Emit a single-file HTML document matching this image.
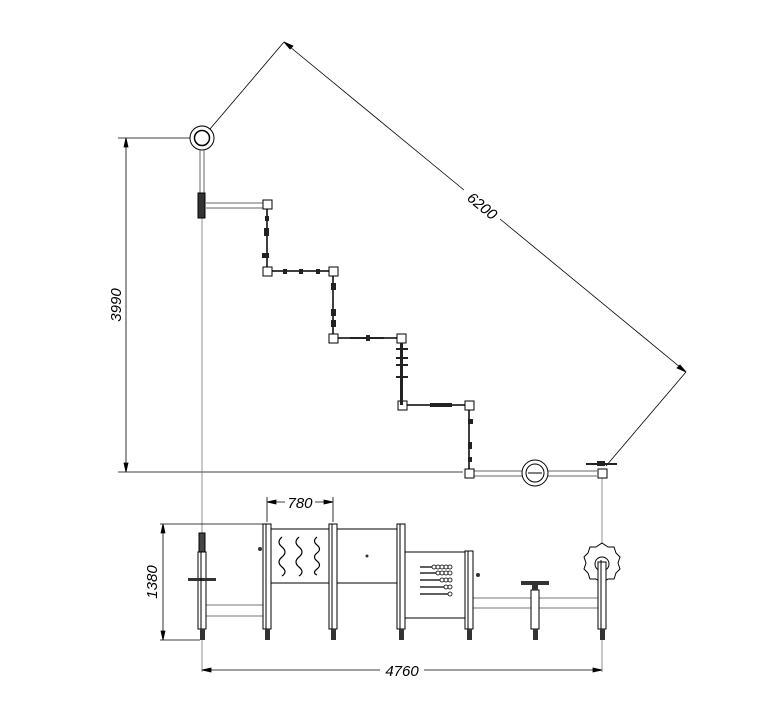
<!DOCTYPE html>
<html><head><meta charset="utf-8"><style>html,body{margin:0;padding:0;background:#fff}svg{display:block}</style></head>
<body>
<svg width="780" height="710" viewBox="0 0 780 710" xmlns="http://www.w3.org/2000/svg" font-family="Liberation Sans, sans-serif" font-style="italic">
<g stroke="#000" fill="none" stroke-width="0.8">
<line x1="210" y1="129" x2="284" y2="42"/>
<line x1="284" y1="42" x2="464" y2="190"/>
<line x1="500" y1="219" x2="686" y2="372"/>
<line x1="686" y1="372" x2="606" y2="466"/>
<path d="M284 42 l9 4 -3 3z" fill="#000"/>
<path d="M686 372 l-9 -4 3 -3z" fill="#000"/>
<line x1="118" y1="138" x2="190" y2="138"/>
<line x1="118" y1="472" x2="463" y2="472"/>
<line x1="126" y1="138" x2="126" y2="472"/>
<path d="M126 138 l-2 9 4 0z M126 472 l-2 -9 4 0z" fill="#000"/>
<line x1="202" y1="218" x2="202" y2="672" stroke="#777"/>
<line x1="602" y1="478" x2="602" y2="672" stroke="#777"/>
</g>
<text x="0" y="0" font-size="15" transform="translate(121,305) rotate(-90)" text-anchor="middle">3990</text>
<text x="0" y="0" font-size="15" transform="translate(479,210) rotate(39.4)" text-anchor="middle">6200</text>

<g stroke="#000" fill="#fff" stroke-width="1">
<circle cx="202" cy="138" r="12"/>
<circle cx="202" cy="138" r="7.5" stroke-width="1.5"/>
<line x1="200" y1="150" x2="200" y2="196" stroke="#666"/>
<line x1="204" y1="150" x2="204" y2="196" stroke="#666"/>
<rect x="198" y="193" width="7" height="25" fill="#333"/>
<line x1="206" y1="203" x2="264" y2="203" stroke="#666"/>
<line x1="206" y1="208" x2="264" y2="208" stroke="#666"/>
<path d="M267 209 V271 H333 V338 H401 V405 H469 V473" fill="none" stroke-width="1.5"/>
<line x1="474" y1="471" x2="597" y2="471" stroke="#666"/>
<line x1="474" y1="476" x2="597" y2="476" stroke="#666"/>
<circle cx="535" cy="473" r="13"/>
<circle cx="535" cy="473" r="9"/>
<line x1="528" y1="473" x2="542" y2="473"/>
<rect x="263" y="200" width="9" height="9"/>
<rect x="263" y="267" width="9" height="9"/>
<rect x="329" y="267" width="9" height="9"/>
<rect x="329" y="334" width="9" height="9"/>
<rect x="397" y="334" width="9" height="9"/>
<rect x="398" y="401" width="9" height="9"/>
<rect x="465" y="401" width="9" height="9"/>
<rect x="465" y="469" width="9" height="9"/>
<rect x="598" y="469" width="9" height="9"/>
</g>
<g fill="#222">
<rect x="265" y="216" width="4" height="5"/><rect x="264" y="228" width="5" height="8"/><rect x="262" y="253" width="7" height="5"/>
<rect x="283" y="269" width="4" height="5"/><rect x="299" y="269" width="4" height="5"/><rect x="316" y="269" width="4" height="5"/>
<rect x="331" y="283" width="5" height="7"/><rect x="331" y="309" width="5" height="7"/><rect x="331" y="320" width="5" height="7"/>
<rect x="350" y="337" width="34" height="2"/><rect x="366" y="335" width="4" height="6"/>
<rect x="400" y="343" width="3" height="62"/>
<rect x="396" y="348" width="12" height="2"/><rect x="396" y="357" width="12" height="2"/><rect x="396" y="364" width="12" height="2"/><rect x="396" y="376" width="12" height="2"/>
<rect x="430" y="403" width="22" height="4"/>
<rect x="468" y="419" width="5" height="5"/><rect x="468" y="442" width="4" height="7"/><rect x="468" y="457" width="4" height="5"/>
<rect x="586" y="463" width="31" height="2"/><rect x="597" y="461" width="8" height="5"/>
</g>

<g stroke="#000" fill="none" stroke-width="0.8">
<line x1="160" y1="524" x2="265" y2="524"/>
<line x1="160" y1="640" x2="200" y2="640"/>
<line x1="163" y1="524" x2="163" y2="640"/>
<path d="M163 524 l-2 9 4 0z M163 640 l-2 -9 4 0z" fill="#000"/>
<line x1="267" y1="497" x2="267" y2="522"/>
<line x1="333" y1="497" x2="333" y2="522"/>
<line x1="267" y1="502" x2="285" y2="502"/><line x1="315" y1="502" x2="333" y2="502"/>
<path d="M267 502 l9 -2 0 4z M333 502 l-9 -2 0 4z" fill="#000"/>
<line x1="202" y1="670" x2="380" y2="670"/><line x1="424" y1="670" x2="602" y2="670"/>
<path d="M202 670 l9 -2 0 4z M602 670 l-9 -2 0 4z" fill="#000"/>
</g>
<text x="0" y="0" font-size="15" transform="translate(157,582) rotate(-90)" text-anchor="middle">1380</text>
<text x="300" y="508" font-size="15" text-anchor="middle">780</text>
<text x="402" y="676" font-size="15" text-anchor="middle">4760</text>

<g stroke="#000" fill="#fff" stroke-width="1">
<rect x="206" y="605" width="59" height="11" stroke="#777"/>
<rect x="473" y="598" width="127" height="10" stroke="#777"/>
<rect x="271" y="529" width="58" height="54"/>
<rect x="337" y="529" width="60" height="54"/>
<rect x="405" y="552" width="60" height="66"/>
<rect x="198" y="552" width="8" height="77"/>
<rect x="199" y="533" width="6" height="19" fill="#444"/>
<rect x="263" y="524" width="8" height="105"/>
<rect x="329" y="524" width="8" height="105"/>
<rect x="397" y="524" width="8" height="105"/>
<rect x="465" y="551" width="8" height="78"/>
<rect x="531" y="590" width="8" height="39"/>
<path d="M602 543 l6 4 6 0 2 6 4 4 -2 6 2 6 -4 4 -2 6 -6 0 -6 4 -6 -4 -6 0 -2 -6 -4 -4 2 -6 -2 -6 4 -4 2 -6 6 0z"/>
<circle cx="602" cy="564" r="7"/>
<rect x="598" y="562" width="8" height="67"/>
</g>
<g fill="#333">
<rect x="200" y="629" width="5" height="11"/><rect x="265" y="629" width="5" height="11"/><rect x="331" y="629" width="5" height="11"/>
<rect x="399" y="629" width="5" height="11"/><rect x="467" y="629" width="5" height="11"/><rect x="533" y="629" width="5" height="11"/><rect x="600" y="629" width="5" height="11"/>
<rect x="188" y="578" width="28" height="3"/>
<rect x="521" y="581" width="28" height="4"/><rect x="532" y="585" width="6" height="5"/>
<line x1="201" y1="552" x2="201" y2="629" stroke="#000"/><line x1="266" y1="524" x2="266" y2="629" stroke="#000"/>
<line x1="332" y1="524" x2="332" y2="629" stroke="#000"/><line x1="400" y1="524" x2="400" y2="629" stroke="#000"/>
<line x1="468" y1="551" x2="468" y2="629" stroke="#000"/><line x1="601" y1="560" x2="601" y2="629" stroke="#000"/>
<circle cx="260" cy="549" r="2"/><circle cx="367" cy="556" r="1.5"/><circle cx="478" cy="575" r="2"/>
</g>
<g stroke="#000" fill="none" stroke-width="1.2">
<path d="M282 537 q-6 5 0 10 q6 5 0 10 q-6 5 0 10 q6 5 0 9"/>
<path d="M299 537 q-6 5 0 10 q6 5 0 10 q-6 5 0 10 q6 5 0 9"/>
<path d="M317 537 q-5 4 0 8 q5 4 0 8 q-5 4 0 8 q5 4 0 8 q-5 4 0 6"/>
<line x1="420" y1="567" x2="452" y2="567"/><line x1="420" y1="573" x2="452" y2="573"/>
<line x1="420" y1="580" x2="452" y2="580"/><line x1="420" y1="587" x2="452" y2="587"/><line x1="420" y1="594" x2="452" y2="594"/>
</g>
<g fill="#fff" stroke="#000" stroke-width="0.8">
<circle cx="434" cy="567" r="2"/><circle cx="438" cy="567" r="2"/><circle cx="442" cy="567" r="2"/><circle cx="446" cy="567" r="2"/><circle cx="450" cy="567" r="2"/>
<circle cx="438" cy="573" r="2"/><circle cx="442" cy="573" r="2"/><circle cx="446" cy="573" r="2"/><circle cx="450" cy="573" r="2"/>
<circle cx="442" cy="580" r="2"/><circle cx="446" cy="580" r="2"/><circle cx="450" cy="580" r="2"/>
<circle cx="446" cy="587" r="2"/><circle cx="450" cy="587" r="2"/>
<circle cx="450" cy="594" r="2"/>
</g>
</svg>
</body></html>
